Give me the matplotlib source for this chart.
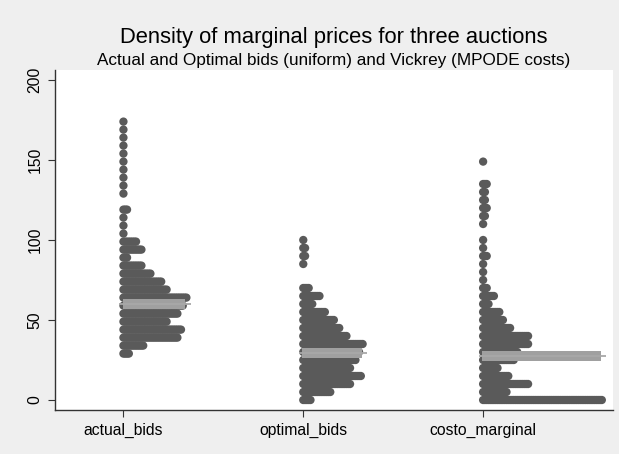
import matplotlib
matplotlib.use("Agg")
import matplotlib.pyplot as plt

plt.rcParams['font.family'] = ['Liberation Sans', 'DejaVu Sans']

categories = ["actual_bids", "optimal_bids", "costo_marginal"]

# binned price levels and number of stacked dots at each level
actual_y = [174, 169, 164, 159, 154, 149, 144, 139, 134, 129, 119, 114, 109, 104,
            99, 94, 89, 84, 79, 74, 69, 64, 59, 54, 49, 44, 39, 34, 29]
actual_n = [1, 1, 1, 1, 1, 1, 1, 1, 1, 1, 3, 1, 1, 1,
            8, 11, 3, 11, 16, 22, 25, 36, 34, 31, 25, 33, 31, 12, 4]

optimal_y = [100, 95, 90, 85, 70, 65, 60, 55, 50, 45, 40, 35, 30, 25, 20, 15, 10, 5, 0]
optimal_n = [1, 2, 2, 1, 4, 10, 6, 13, 18, 21, 25, 34, 32, 30, 27, 33, 27, 16, 5]

costo_y = [149, 135, 130, 125, 120, 115, 110, 100, 95, 90, 85, 80, 75, 70, 65, 60,
           55, 50, 45, 40, 35, 30, 25, 20, 15, 10, 5, 0]
costo_n = [1, 3, 2, 2, 3, 2, 1, 1, 1, 3, 1, 1, 1, 3, 7, 4,
           10, 12, 16, 26, 26, 20, 18, 9, 15, 26, 14, 67]

means = [60.0, 29.5, 27.3]

yticks = [0, 50, 100, 150, 200]

W, H = 619, 454
fig = plt.figure(figsize=(W / 100, H / 100), dpi=100, facecolor="#efefef")
ax = fig.add_axes([55 / W, (H - 410) / H, (613 - 55) / W, (410 - 70) / H])
ax.set_facecolor("white")

step = 0.01
dot_px = 8.3
dot_r = (dot_px / 2) / 180.0
dot_color = "#5a5a5a"
bar_color = "#a0a0a0"

series = [(actual_y, actual_n), (optimal_y, optimal_n), (costo_y, costo_n)]
for i, (ys, ns) in enumerate(series):
    pos = i + 1
    xs, yy = [], []
    for y, n in zip(ys, ns):
        for k in range(n):
            xs.append(pos + k * step)
            yy.append(y)
    ax.scatter(xs, yy, s=(dot_px * 0.72) ** 2, color=dot_color,
               edgecolors="none", zorder=2)
    nmax = max(ns)
    ax.barh(means[i], (nmax - 1) * step, left=pos - 0.005, height=6.2,
            color=bar_color, zorder=3)
    ax.hlines(means[i], pos - dot_r, pos + (nmax - 1) * step + dot_r,
              color="#a8a8a8", linewidth=1.3, zorder=3)

ax.set_xlim(1 - 68.5 / 180, 3 + 130 / 180)
ax.set_ylim(-6.25, 206.25)
ax.set_xticks([1, 2, 3])
ax.set_xticklabels(categories, fontsize=11.3)
ax.set_yticks(yticks)
ax.set_yticklabels([str(t) for t in yticks], rotation=90, va="center", fontsize=11.3)
ax.tick_params(axis="both", length=5, width=0.8, color="#333333", pad=4)
for s in ["top", "right"]:
    ax.spines[s].set_visible(False)
for s in ["left", "bottom"]:
    ax.spines[s].set_color("#333333")
    ax.spines[s].set_linewidth(1.0)

fig.text(334 / W, 1 - 38 / H, "Density of marginal prices for three auctions",
         ha="center", va="center", fontsize=15.8)
fig.text(334 / W, 1 - 60 / H,
         "Actual and Optimal bids (uniform) and Vickrey (MPODE costs)",
         ha="center", va="center", fontsize=12.3)

fig.savefig("out.png", dpi=100, facecolor=fig.get_facecolor())
